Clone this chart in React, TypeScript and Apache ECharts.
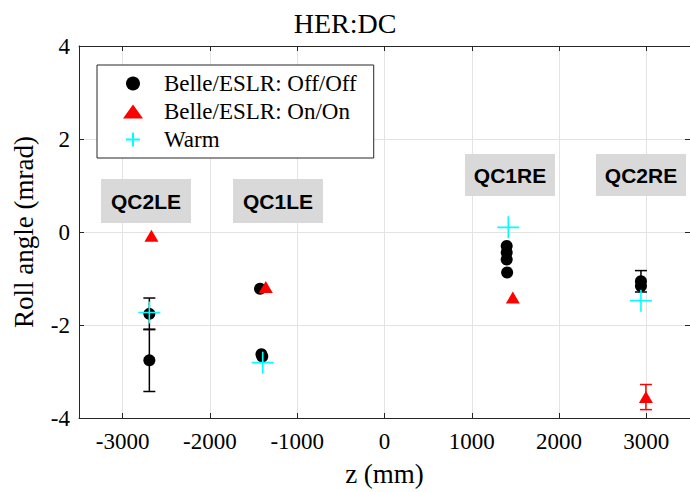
import React, { useEffect, useRef } from "react";
import * as echarts from "echarts";

const xTickValues = [-3000, -2000, -1000, 0, 1000, 2000, 3000];
const yTickValues = [-4, -2, 0, 2, 4];

// Belle/ESLR: Off/Off
const offZ = [-2694, -2694, -1426, -1410, -1400, 1400, 1400, 1400, 1405, 2938, 2938];
const offRoll = [-1.76, -2.76, -1.22, -2.63, -2.68, -0.30, -0.44, -0.59, -0.87, -1.06, -1.16];
const offErr = [0.34, 0.67, 0, 0, 0, 0, 0, 0, 0, 0.23, 0];

// Belle/ESLR: On/On
const onZ = [-2670, -1360, 1470, 2995];
const onRoll = [-0.08, -1.185, -1.41, -3.55];
const onErr = [0, 0, 0, 0.27];

// Warm
const warmZ = [-2694, -1395, 1418, 2938];
const warmRoll = [-1.73, -2.81, 0.10, -1.48];

const magnetNames = ["QC2LE", "QC1LE", "QC1RE", "QC2RE"];

const SERIF = "Liberation Serif";
const SANS = "Liberation Sans";

const boxPos = [
  [101, 179, 90, 44],
  [233, 179, 90, 44],
  [465, 154, 90, 42],
  [596, 154, 90, 42],
];

function errData(zs: number[], ys: number[], es: number[]) {
  const out: number[][] = [];
  zs.forEach((z, i) => {
    if (es[i] > 0) out.push([z, ys[i] - es[i], ys[i] + es[i]]);
  });
  return out;
}

function errorBarSeries(data: number[][], color: string) {
  return {
    type: "custom",
    silent: true,
    data,
    encode: { x: 0, y: [1, 2] },
    renderItem: (_params: any, api: any) => {
      const z = api.value(0);
      const lo = api.coord([z, api.value(1)]);
      const hi = api.coord([z, api.value(2)]);
      const w = 6;
      const style = { stroke: color, lineWidth: 1.5, fill: "none" };
      return {
        type: "group",
        children: [
          { type: "line", shape: { x1: lo[0], y1: lo[1], x2: hi[0], y2: hi[1] }, style },
          { type: "line", shape: { x1: lo[0] - w, y1: lo[1], x2: lo[0] + w, y2: lo[1] }, style },
          { type: "line", shape: { x1: hi[0] - w, y1: hi[1], x2: hi[0] + w, y2: hi[1] }, style },
        ],
      };
    },
  };
}

export default function App() {
  const ref = useRef<HTMLDivElement>(null);
  useEffect(() => {
    if (!ref.current) return;
    const chart = echarts.init(ref.current, null, { renderer: "svg" });
    const axisColor = "#262626";
    const gridColor = "#e3e3e3";
    const graphics: any[] = [];
    magnetNames.forEach((name, i) => {
      const [x, y, w, h] = boxPos[i];
      graphics.push({ type: "rect", z: 10, shape: { x, y, width: w, height: h }, style: { fill: "#d9d9d9" } });
      graphics.push({
        type: "text",
        z: 11,
        x: x + w / 2,
        y: y + h / 2,
        style: {
          text: name,
          fill: "#000",
          fontSize: 21,
          fontWeight: "bold",
          fontFamily: SANS,
          align: "center",
          verticalAlign: "middle",
        },
      });
    });
    chart.setOption({
      animation: false,
      backgroundColor: "#fff",
      textStyle: { fontFamily: SERIF },
      title: {
        text: "HER:DC",
        left: "center",
        top: 4,
        textStyle: { fontFamily: SERIF, fontSize: 28, fontWeight: "normal", color: "#000" },
      },
      grid: { left: 79, right: 0, top: 46, bottom: 69, containLabel: false },
      legend: {
        data: ["Belle/ESLR: Off/Off", "Belle/ESLR: On/On", "Warm"],
        orient: "vertical",
        left: 97,
        top: 65,
        padding: [7, 17, 7, 26],
        itemGap: 5,
        itemWidth: 20,
        itemHeight: 14,
        backgroundColor: "#fff",
        borderColor: "#262626",
        borderWidth: 1,
        textStyle: { fontFamily: SERIF, fontSize: 23, color: "#000", padding: [0, 0, 0, 16] },
      },
      xAxis: [
        {
          type: "value",
          min: -3500,
          max: 3500,
          splitNumber: 7,
          name: "z (mm)",
          nameLocation: "middle",
          nameGap: 42,
          nameTextStyle: { fontFamily: SERIF, fontSize: 27, color: "#000" },
          axisLine: { show: true, onZero: false, lineStyle: { color: axisColor, width: 1 } },
          axisTick: { show: true, inside: true, length: 5, lineStyle: { color: axisColor } },
          axisLabel: {
            fontFamily: SERIF,
            fontSize: 23,
            color: "#000",
            margin: 12,
            showMinLabel: false,
            showMaxLabel: false,
            formatter: (v: number) => (xTickValues.includes(v) ? String(v) : ""),
          },
          splitLine: { show: true, lineStyle: { color: gridColor, width: 1 } },
        },
        {
          type: "value",
          position: "top",
          min: -3500,
          max: 3500,
          splitNumber: 7,
          axisLine: { show: true, onZero: false, lineStyle: { color: axisColor, width: 1 } },
          axisTick: { show: true, inside: true, length: 5, lineStyle: { color: axisColor } },
          axisLabel: { show: false },
          splitLine: { show: false },
        },
      ],
      yAxis: [
        {
          type: "value",
          min: -4,
          max: 4,
          interval: 2,
          name: "Roll angle (mrad)",
          nameLocation: "middle",
          nameGap: 42,
          nameTextStyle: { fontFamily: SERIF, fontSize: 27, color: "#000" },
          axisLine: { show: true, onZero: false, lineStyle: { color: axisColor, width: 1 } },
          axisTick: { show: true, inside: true, length: 5, lineStyle: { color: axisColor } },
          axisLabel: {
            fontFamily: SERIF,
            fontSize: 23,
            color: "#000",
            margin: 9,
            formatter: (v: number) => (yTickValues.includes(v) ? String(v) : ""),
          },
          splitLine: { show: true, lineStyle: { color: gridColor, width: 1 } },
        },
        {
          type: "value",
          position: "right",
          min: -4,
          max: 4,
          interval: 2,
          axisLine: { show: true, onZero: false, lineStyle: { color: axisColor, width: 1 } },
          axisTick: { show: true, inside: true, length: 5, lineStyle: { color: axisColor } },
          axisLabel: { show: false },
          splitLine: { show: false },
        },
      ],
      series: [
        errorBarSeries(errData(offZ, offRoll, offErr), "#000"),
        {
          name: "Belle/ESLR: Off/Off",
          type: "scatter",
          symbol: "circle",
          symbolSize: 12,
          itemStyle: { color: "#000", opacity: 1 },
          data: offZ.map((z, i) => [z, offRoll[i]]),
          z: 3,
        },
        errorBarSeries(errData(onZ, onRoll, onErr), "#ff0000"),
        {
          name: "Belle/ESLR: On/On",
          type: "scatter",
          symbol: "triangle",
          symbolSize: [14, 12],
          itemStyle: { color: "#ff0000", opacity: 1 },
          data: onZ.map((z, i) => [z, onRoll[i]]),
          z: 4,
        },
        {
          name: "Warm",
          type: "scatter",
          symbol: "path://M10,0 L10,20 M0,10 L20,10",
          symbolSize: 22,
          itemStyle: { color: "transparent", borderColor: "#00ffff", borderWidth: 1.6, opacity: 1 },
          data: warmZ.map((z, i) => [z, warmRoll[i]]),
          z: 5,
        },
      ],
      graphic: graphics,
    });
    return () => chart.dispose();
  }, []);
  return (
    <div
      ref={ref}
      style={{ position: "fixed", left: 0, top: 0, width: 690, height: 492 }}
    />
  );
}
